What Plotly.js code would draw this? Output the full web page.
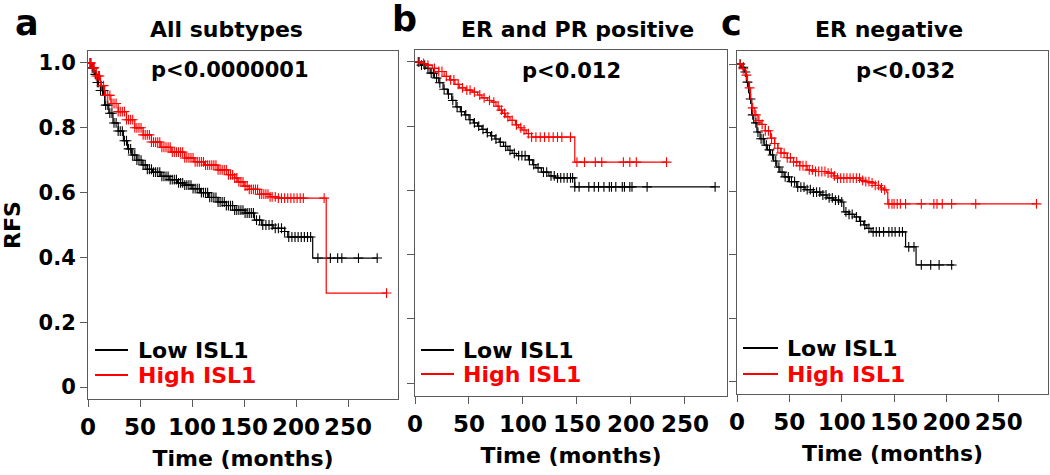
<!DOCTYPE html>
<html>
<head>
<meta charset="utf-8">
<script src="https://cdn.plot.ly/plotly-3.0.1.min.js"></script>
<style>html,body{margin:0;padding:0;background:#fff;}#chart{width:1050px;height:475px;}</style>
</head>
<body>
<div id="chart"></div>
<script>
// ---------- DATA ----------
const panelLetters = ['a', 'b', 'c'];
const panelTitles = ['All subtypes', 'ER and PR positive', 'ER negative'];
const pValues = ['p<0.0000001', 'p<0.012', 'p<0.032'];
const groupNames = ['Low ISL1', 'High ISL1'];
const xTickVals = [0, 50, 100, 150, 200, 250];
const yTickVals = [0, 0.2, 0.4, 0.6, 0.8, 1.0];
const yTickText = ['0', '0.2', '0.4', '0.6', '0.8', '1.0'];

// Panel a: All subtypes
const aLowT = [0,3,6,9,12,16,20,24,29,34,38,42,47,52,57,62,70,78,86,93,100,108,116,125,133,141,151,160,167,178,189,192,216,278];
const aLowS = [1.0,0.985,0.965,0.94,0.915,0.87,0.845,0.815,0.79,0.76,0.735,0.716,0.70,0.685,0.672,0.663,0.65,0.64,0.63,0.623,0.612,0.60,0.585,0.571,0.56,0.546,0.537,0.515,0.50,0.49,0.48,0.463,0.398,0.398];
const aLowCens = [2,4,5,7,9,10,12,14,15,17,19,21,23,25,27,29,31,33,35,37,39,41,43,45,47,49,51,53,55,57,59,61,63,65,67,69,71,73,75,77,79,81,83,85,87,89,91,93,95,97,99,101,103,105,107,109,111,113,115,117,119,121,123,125,127,129,131,133,135,137,139,141,143,145,147,149,151,153,155,157,159,162,165,168,171,174,177,180,183,186,189,193,196,199,202,205,208,211,214,221,233,240,244,260,278];
const aHighT = [0,4,8,12,16,22,29,37,45,53,61,70,80,93,102,112,125,135,141,144,150,155,165,175,183,229,287];
const aHighS = [1.0,0.985,0.96,0.93,0.90,0.875,0.85,0.825,0.80,0.778,0.756,0.74,0.725,0.707,0.695,0.685,0.67,0.655,0.645,0.633,0.62,0.61,0.595,0.587,0.583,0.29,0.29];
const aHighCens = [2,3,5,6,8,10,11,13,15,17,19,21,23,25,27,29,31,33,35,37,39,41,43,45,47,49,51,53,55,57,59,61,63,65,67,69,71,73,75,77,79,81,83,85,87,89,91,93,95,97,99,101,103,105,107,109,111,113,115,117,119,121,123,125,127,129,131,133,135,137,139,141,143,145,147,149,151,153,155,157,159,161,163,165,167,169,171,173,175,177,180,183,186,189,192,195,198,201,204,207,227,287];

// Panel b: ER and PR positive
const bLowT = [0,5,10,14,18,22,26,30,34,38,42,46,50,54,58,62,66,70,74,78,82,86,90,94,105,109,112,117,124,130,148,278];
const bLowS = [1.0,0.99,0.98,0.965,0.95,0.935,0.915,0.90,0.88,0.86,0.845,0.835,0.82,0.81,0.80,0.79,0.78,0.77,0.76,0.75,0.737,0.725,0.715,0.708,0.695,0.68,0.67,0.657,0.645,0.639,0.611,0.611];
const bLowCens = [3,6,9,12,15,17,20,23,27,31,35,39,43,47,51,55,59,63,67,71,75,79,84,88,92,96,99,102,106,110,114,119,122,126,129,132,135,138,141,144,146,148,152,161,166,170,175,180,182,186,192,194,199,201,215,278];
const bHighT = [0,6,10,16,22,27,32,37,41,47,53,58,62,67,71,75,78,81,84,88,93,96,99,103,108,148,233];
const bHighS = [1.0,0.995,0.99,0.98,0.97,0.955,0.944,0.93,0.919,0.912,0.906,0.897,0.888,0.88,0.875,0.862,0.85,0.84,0.829,0.818,0.804,0.795,0.788,0.777,0.766,0.688,0.688];
const bHighCens = [4,8,12,18,22,25,29,33,36,40,44,48,51,55,60,64,69,73,77,80,83,86,90,94,98,101,105,108,112,116,120,124,128,132,136,144,150,157,167,173,193,199,205,233];

// Panel c: ER negative
const cLowT = [0,4,7,9,11,12,14,16,19,22,26,29,32,35,38,41,45,50,57,65,73,80,86,92,99,102,107,112,117,121,124,128,161,171,207];
const cLowS = [1.0,0.99,0.975,0.943,0.91,0.89,0.84,0.815,0.786,0.765,0.745,0.73,0.714,0.695,0.676,0.66,0.645,0.63,0.613,0.605,0.597,0.588,0.579,0.572,0.566,0.535,0.527,0.519,0.505,0.494,0.483,0.472,0.425,0.368,0.368];
const cLowCens = [3,6,8,10,13,15,18,20,23,25,28,31,34,37,40,43,46,49,52,55,58,61,64,67,70,73,76,79,82,85,88,91,94,97,100,104,107,110,114,118,122,126,130,133,136,140,145,148,151,155,158,164,169,176,185,193,205];
const cHighT = [0,5,8,10,11.5,13,14,17,20,23,27,32,36,39,42,48,54,60,67,75,86,92,96,118,123,128,132,137,140,143,144,286];
const cHighS = [1.0,0.985,0.965,0.945,0.925,0.89,0.862,0.84,0.822,0.81,0.79,0.767,0.75,0.735,0.72,0.705,0.692,0.68,0.667,0.662,0.657,0.648,0.641,0.634,0.63,0.626,0.618,0.61,0.604,0.597,0.56,0.56];
const cHighCens = [3,6,9,12,15,18,21,24,27,30,33,36,39,42,45,48,51,54,57,60,63,66,69,72,75,78,81,84,87,90,93,96,99,102,105,108,111,114,117,120,123,126,129,132,135,138,141,145,148,150,153,156,161,176,188,191,196,205,228,286];

// ---------- BUILD ----------
const W = 1050, H = 475;
const px = x => x / W;
const py = y => 1 - y / H;
const BLACK = '#000000', RED = '#ff0000';
const FONT = 'DejaVu Sans';

function stepAt(t, T, S) {
  let s = S[0];
  for (let i = 0; i < T.length; i++) { if (T[i] <= t) s = S[i]; }
  return s;
}

const panels = [
  {low: [aLowT, aLowS, aLowCens], high: [aHighT, aHighS, aHighCens], xa: 'x', ya: 'y'},
  {low: [bLowT, bLowS, bLowCens], high: [bHighT, bHighS, bHighCens], xa: 'x2', ya: 'y2'},
  {low: [cLowT, cLowS, cLowCens], high: [cHighT, cHighS, cHighCens], xa: 'x3', ya: 'y3'}
];

const traces = [];
panels.forEach(p => {
  [[p.low, BLACK, groupNames[0]], [p.high, RED, groupNames[1]]].forEach(([d, col, nm]) => {
    traces.push({
      type: 'scatter', mode: 'lines', x: d[0], y: d[1], xaxis: p.xa, yaxis: p.ya,
      line: {shape: 'hv', color: col, width: 1.2}, name: nm, showlegend: false, hoverinfo: 'skip'
    });
    traces.push({
      type: 'scatter', mode: 'markers', x: d[2], y: d[2].map(t => stepAt(t, d[0], d[1])),
      xaxis: p.xa, yaxis: p.ya, name: nm + ' censored', showlegend: false, hoverinfo: 'skip',
      marker: {symbol: 'cross-thin', size: 7, line: {color: col, width: 1.1}, color: col}
    });
  });
});

// geometry (pixels) of each plot box
const boxes = [
  {l: 88, r: 398, t: 51, b: 399, xr: [0, 298], yr: [-0.037, 1.037]},
  {l: 415, r: 727, t: 50, b: 396, xr: [0, 289], yr: [-0.040, 1.037]},
  {l: 737, r: 1048, t: 51, b: 394, xr: [0, 297], yr: [-0.038, 1.041]}
];

const layout = {
  width: W, height: H,
  margin: {l: 0, r: 0, t: 0, b: 0},
  paper_bgcolor: '#ffffff', plot_bgcolor: '#ffffff',
  font: {family: FONT, color: '#000', weight: 'bold'},
  showlegend: false,
  annotations: [], shapes: []
};

boxes.forEach((bx, i) => {
  const sx = i === 0 ? '' : String(i + 1);
  layout['xaxis' + sx] = {
    domain: [px(bx.l), px(bx.r)], range: bx.xr, anchor: 'y' + sx,
    showline: true, mirror: true, linecolor: '#5a5a5a', linewidth: 1,
    ticks: 'outside', ticklen: 7, tickcolor: '#5a5a5a', tickwidth: 1,
    tickvals: xTickVals, showgrid: false, zeroline: false, automargin: false,
    tickfont: {family: FONT, size: 23, weight: 'bold', color: '#000'},
    title: {text: 'Time (months)', standoff: 12, font: {family: FONT, size: 22, weight: 'bold', color: '#000'}}
  };
  layout['yaxis' + sx] = {
    domain: [py(bx.b), py(bx.t)], range: bx.yr, anchor: 'x' + sx,
    showline: true, mirror: true, linecolor: '#5a5a5a', linewidth: 1,
    ticks: 'outside', ticklen: 7, tickcolor: '#5a5a5a', tickwidth: 1,
    tickvals: yTickVals, ticktext: yTickText, showticklabels: i === 0,
    showgrid: false, zeroline: false, automargin: false,
    tickfont: {family: FONT, size: 21, weight: 'bold', color: '#000'},
    title: i === 0 ? {text: 'RFS', standoff: 18, font: {family: FONT, size: 22, weight: 'bold', color: '#000'}} : {text: ''}
  };
});

// panel letters, titles, p-values
const letterPos = [[27, 23], [404, 19], [731, 23]];
const titlePos = [[226, 30], [577, 30], [889, 30]];
const pPos = [[230, 70], [571, 71], [905, 71]];
panelLetters.forEach((s, i) => {
  layout.annotations.push({text: s, x: px(letterPos[i][0]), y: py(letterPos[i][1]), xref: 'paper', yref: 'paper',
    showarrow: false, xanchor: 'center', yanchor: 'middle', font: {family: FONT, size: 35, weight: 'bold', color: '#000'}});
  layout.annotations.push({text: panelTitles[i], x: px(titlePos[i][0]), y: py(titlePos[i][1]), xref: 'paper', yref: 'paper',
    showarrow: false, xanchor: 'center', yanchor: 'middle', font: {family: FONT, size: 22, weight: 'bold', color: '#000'}});
  layout.annotations.push({text: pValues[i], x: px(pPos[i][0]), y: py(pPos[i][1]), xref: 'paper', yref: 'paper',
    showarrow: false, xanchor: 'center', yanchor: 'middle', font: {family: FONT, size: 21, weight: 'bold', color: '#000'}});
});

// legends inside each panel
const legPos = [
  {l1: 95, l2: 128, tx: 136, y1: 350, y2: 375},
  {l1: 421, l2: 454, tx: 461, y1: 350, y2: 374},
  {l1: 743, l2: 778, tx: 785, y1: 348, y2: 374}
];
legPos.forEach(lp => {
  [[groupNames[0], BLACK, lp.y1], [groupNames[1], RED, lp.y2]].forEach(([nm, col, yy]) => {
    layout.shapes.push({type: 'line', xref: 'paper', yref: 'paper', x0: px(lp.l1), x1: px(lp.l2), y0: py(yy), y1: py(yy),
      line: {color: col, width: 2}});
    layout.annotations.push({text: nm, x: px(lp.tx), y: py(yy), xref: 'paper', yref: 'paper', showarrow: false,
      xanchor: 'left', yanchor: 'middle', font: {family: FONT, size: 22, weight: 'bold', color: col}});
  });
});

Plotly.newPlot('chart', traces, layout, {staticPlot: true, displayModeBar: false});
</script>
</body>
</html>
